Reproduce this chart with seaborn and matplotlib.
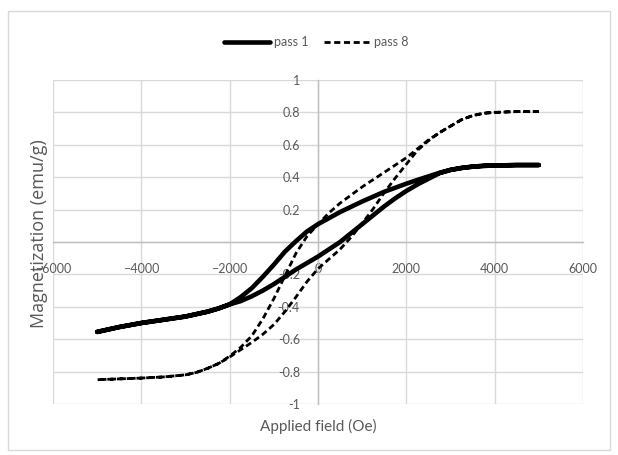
import matplotlib
matplotlib.use("Agg")
import matplotlib.pyplot as plt
from matplotlib.patches import Rectangle
import seaborn as sns
import pandas as pd

# Hysteresis loops: magnetization (emu/g) vs applied field (Oe)
# pass 1, field sweeping down from +5000 Oe
p1_down_field = [5000, 4500, 4000, 3750, 3500, 3250, 3000, 2750, 2500, 2250, 2000, 1500,
                 1000, 500, 0, -250, -500, -750, -1000, -1250, -1500, -1750, -2000,
                 -2250, -2500, -3000, -3500, -4000, -4500, -5000]
p1_down_m = [0.475, 0.475, 0.472, 0.47, 0.465, 0.457, 0.445, 0.427, 0.405, 0.383, 0.36, 0.31,
             0.25, 0.185, 0.11, 0.065, 0.005, -0.06, -0.14, -0.215, -0.285, -0.34, -0.385,
             -0.41, -0.43, -0.46, -0.48, -0.50, -0.525, -0.555]

# pass 1, field sweeping back up from -5000 Oe
p1_up_field = [-5000, -4500, -4000, -3500, -3000, -2500, -2250, -2000, -1750, -1500, -1250,
               -1000, -750, -500, -250, 0, 250, 500, 750, 1000, 1250, 1500, 1750, 2000,
               2250, 2500, 2750, 3000, 3250, 3500, 3750, 4000, 4500, 5000]
p1_up_m = [-0.555, -0.525, -0.50, -0.48, -0.46, -0.43, -0.41, -0.385, -0.365, -0.335, -0.30,
           -0.26, -0.215, -0.17, -0.13, -0.09, -0.045, 0.0, 0.055, 0.11, 0.165, 0.22, 0.27, 0.315,
           0.355, 0.39, 0.425, 0.445, 0.457, 0.465, 0.47, 0.472, 0.475, 0.475]

# pass 8, field sweeping down
p8_down_field = [5000, 4500, 4000, 3750, 3500, 3250, 3000, 2750, 2500, 2250, 2000, 1750,
                 1500, 1250, 1000, 750, 500, 250, 0, -250, -500, -750, -1000, -1250, -1500,
                 -1750, -2000, -2250, -2500, -2750, -3000, -3500, -4000, -4500, -5000]
p8_down_m = [0.805, 0.805, 0.80, 0.795, 0.78, 0.755, 0.715, 0.675, 0.63, 0.575, 0.52, 0.475,
             0.43, 0.385, 0.34, 0.29, 0.24, 0.18, 0.11, 0.035, -0.07, -0.21, -0.35, -0.475, -0.58,
             -0.65, -0.705, -0.75, -0.78, -0.805, -0.82, -0.833, -0.84, -0.845, -0.85]

# pass 8, field sweeping up
p8_up_field = [-5000, -4500, -4000, -3500, -3000, -2750, -2500, -2250, -2000, -1750, -1500,
               -1250, -1000, -750, -500, -250, 0, 250, 500, 750, 1000, 1250, 1500, 1750,
               2000, 2250, 2500, 2750, 3000, 3250, 3500, 3750, 4000, 4500, 5000]
p8_up_m = [-0.85, -0.845, -0.84, -0.833, -0.82, -0.805, -0.78, -0.75, -0.71, -0.665, -0.62,
           -0.57, -0.51, -0.43, -0.34, -0.245, -0.165, -0.105, -0.045, 0.03, 0.115, 0.205, 0.305,
           0.395, 0.48, 0.565, 0.625, 0.675, 0.715, 0.755, 0.78, 0.795, 0.80, 0.805, 0.805]

x_ticks = [-6000, -4000, -2000, 0, 2000, 4000, 6000]
y_ticks = [-1, -0.8, -0.6, -0.4, -0.2, 0, 0.2, 0.4, 0.6, 0.8, 1]
y_tick_labels = ["-1", "-0.8", "-0.6", "-0.4", "-0.2", "", "0.2", "0.4", "0.6", "0.8", "1"]

sns.set_style("white")
plt.rcParams["font.family"] = ["Lato", "DejaVu Sans"]

txt = "#595959"
grid = "#d9d9d9"

fig = plt.figure(figsize=(6.18, 4.55), dpi=100)
W, H = 618, 455
ax = fig.add_axes([53 / W, 1 - 404 / H, 530 / W, 324 / H])

p1 = pd.DataFrame({"field": p1_down_field + p1_up_field,
                   "m": p1_down_m + p1_up_m})
p8 = pd.DataFrame({"field": p8_down_field + p8_up_field,
                   "m": p8_down_m + p8_up_m})

sns.lineplot(data=p1, x="field", y="m", sort=False, estimator=None, ax=ax,
             color="black", lw=3.3, label="pass 1", zorder=3)
sns.lineplot(data=p8, x="field", y="m", sort=False, estimator=None, ax=ax,
             color="black", lw=2.0, linestyle=(0, (2.2, 1.3)), label="pass 8", zorder=3)

ax.set_xlim(-6000, 6000)
ax.set_ylim(-1, 1)
ax.set_xticks(x_ticks)
ax.set_yticks(y_ticks)
ax.set_yticklabels(y_tick_labels)
ax.grid(True, color=grid, lw=1.0, zorder=0)
ax.set_axisbelow(True)

for side in ("top", "right"):
    ax.spines[side].set_visible(False)
for side in ("left", "bottom"):
    ax.spines[side].set_position("zero")
    ax.spines[side].set_color("#bfbfbf")
    ax.spines[side].set_linewidth(1.0)
    ax.spines[side].set_zorder(1)

ax.tick_params(axis="both", which="major", direction="inout", length=6, width=0.8,
               color="#bfbfbf", labelcolor=txt, labelsize=9)
ax.tick_params(axis="x", pad=12)
ax.tick_params(axis="y", pad=10)

ax.set_xlabel("Applied field (Oe)", fontsize=11, color=txt)
ax.set_ylabel("Magnetization (emu/g)", fontsize=13, color=txt,
              family=["Open Sans", "DejaVu Sans"])
ax.xaxis.set_label_coords(0.5, -0.045)
ax.yaxis.set_label_coords(-0.01, 0.525)

fig.legend(loc="center", bbox_to_anchor=(316 / W, 1 - 42 / H), ncol=2, frameon=False,
           fontsize=9, labelcolor=txt, handlelength=3.7, columnspacing=1.2,
           handletextpad=0.3)
if ax.get_legend():
    ax.get_legend().remove()

fig.patches.append(Rectangle((8 / W, 1 - 450 / H), 602 / W, 439 / H, transform=fig.transFigure,
                             fill=False, edgecolor=grid, lw=1.0))

fig.savefig("out.png", dpi=100, facecolor="white")
